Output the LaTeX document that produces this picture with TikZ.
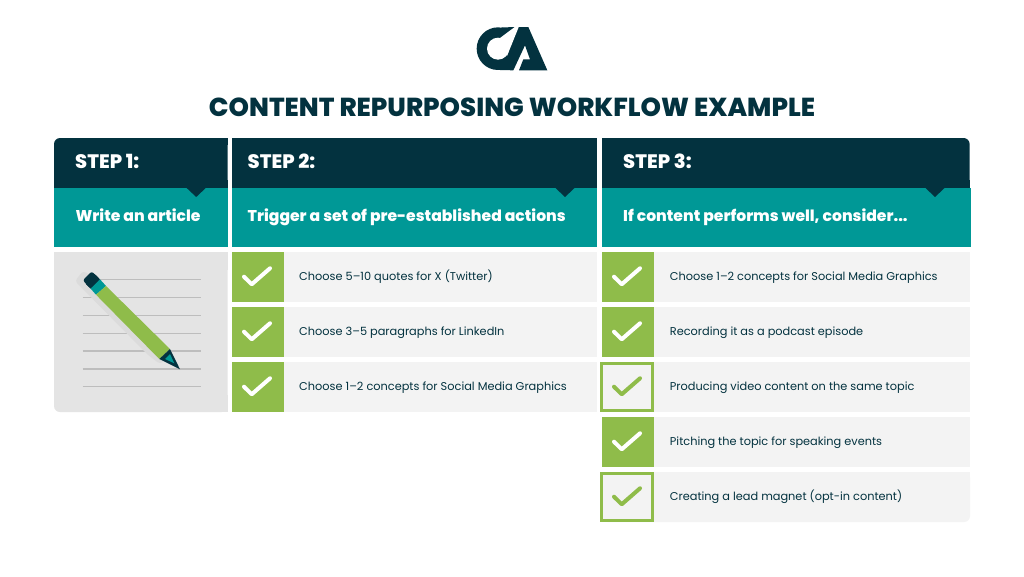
\documentclass[tikz,border=0pt]{standalone}
\usepackage{fontspec}
\setmainfont{Poppins}
\newfontfamily\heavy{Poppins ExtraBold}
\definecolor{ink}{HTML}{03323F}
\definecolor{teal2}{HTML}{009896}
\definecolor{leaf}{HTML}{8FBC4A}
\definecolor{pale}{HTML}{F3F3F3}
\definecolor{panel}{HTML}{E4E4E4}
\definecolor{rule}{HTML}{BDBDBD}
\definecolor{penshadow}{HTML}{DBDBDB}
\tikzset{
  titletext/.style={font=\fontsize{26}{28}\selectfont\heavy,text=ink,anchor=base,inner sep=0pt},
  steptext/.style={font=\fontsize{19.5}{22}\selectfont\heavy,text=white,anchor=base west,inner sep=0pt},
  subtext/.style={font=\fontsize{15.6}{18}\selectfont\heavy,text=white,anchor=base west,inner sep=0pt},
  rowtext/.style={font=\fontsize{11.33}{14}\selectfont,text=ink,anchor=base west,inner sep=0pt},
  tick/.style={line width=4pt,line cap=round,line join=round},
  paper/.style={rule,line width=1.1pt}
}
\newcommand{\solidbox}[2]{%
  \fill[leaf] (#1,#2) rectangle (#1+51.5,#2+50);
  \draw[tick,white] (#1+12,#2+24.7) -- (#1+19.7,#2+32.3) -- (#1+38,#2+16.3);}
\newcommand{\openbox}[2]{%
  \draw[leaf,line width=2.8pt] (#1-0.6,#2+1.4) rectangle (#1+50.2,#2+48.4);
  \draw[tick,leaf] (#1+12,#2+24.7) -- (#1+19.7,#2+32.3) -- (#1+38,#2+16.3);}
\begin{document}
\begin{tikzpicture}[x=1pt,y=-1pt]
\useasboundingbox (0,0) rectangle (1024,576);
\fill[white] (0,0) rectangle (1024,576);
% logo
\begin{scope}[shift={(470,22)},x=0.3333pt,y=-0.3333pt]
  \begin{scope}
    \clip (0,0) -- (190,0) -- (120,150) -- (0,150) -- cycle;
    \fill[ink] (84,80) circle[radius=64];
  \end{scope}
  \fill[ink] (95,16) -- (175,15) -- (232,145) -- (147,145) -- (160,112) -- (180,112) -- (165,70) -- (130,145) -- (90,144) -- cycle;
  \fill[white] (84,80) circle[radius=33];
  \fill[white] (147,13) -- (137,13) -- (90,48) -- (111,102) -- cycle;
\end{scope}
\node[titletext] (title) at (512,116) {CONTENT REPURPOSING WORKFLOW EXAMPLE};
% headers
\fill[ink,rounded corners=6pt] (54,188) -- (54,138) -- (227.5,138) -- (227.5,188) -- cycle;
\fill[ink] (232,138) rectangle (597,188);
\fill[ink,rounded corners=6pt] (602,188) -- (602,138) -- (969.6,138) -- (969.6,188) -- cycle;
\fill[ink] (54,180) rectangle (227.5,188);
\fill[ink] (227.5,138) rectangle (220,145);
\fill[ink] (602,138) rectangle (610,145);
\fill[ink] (602,180) rectangle (969.6,188);
\fill[teal2] (54,188) rectangle (227.5,247);
\fill[teal2] (232,188) rectangle (597,247);
\fill[teal2] (602,188) rectangle (970.5,247);
\fill[ink] (186.7,188) -- (205.7,188) -- (196.2,197) -- cycle;
\fill[ink] (555.5,188) -- (574.5,188) -- (565,197) -- cycle;
\fill[ink] (925.5,188) -- (944.5,188) -- (935,197) -- cycle;
\node[steptext] (s1) at (75,168.7) {STEP 1:};
\node[steptext] (s2) at (247.5,168.7) {STEP 2:};
\node[steptext] (s3) at (623,168.7) {STEP 3:};
\node[subtext] (a1) at (75.5,221.5) {Write an article};
\node[subtext] (a2) at (247.5,221.5) {Trigger a set of pre-established actions};
\node[subtext] (a3) at (623,221.5) {If content performs well, consider...};
% panel with pencil
\fill[panel,rounded corners=6pt] (54,252) -- (54,412) -- (227.5,412) -- (227.5,252) -- cycle;
\fill[panel] (54,252) rectangle (70,270);
\fill[panel] (227.5,252) rectangle (210,270);
\fill[panel] (227.5,412) rectangle (210,395);
\foreach \yy in {297.3,315.3,333.3,351,369,386.7}
  \draw[paper] (82.7,\yy) -- (201,\yy);
\draw[paper] (100,279.3) -- (201,279.3);
\fill[penshadow,rounded corners=3pt] (75,281) -- (83,271) -- (100,280) -- (165,360) -- (160,364) -- (148,355) -- cycle;
\fill[ink,rounded corners=2.5pt] (82.7,280.3) -- (91.7,271.3) -- (100,279.3) -- (90.7,288.7) -- cycle;
\fill[ink] (86,284) -- (90.7,288.7) -- (100,279.3) -- (95.5,275) -- cycle;
\fill[teal2] (100,279.3) -- (106,286) -- (96,294.7) -- (90.7,288.7) -- cycle;
\fill[leaf] (106,286) -- (170,349) -- (159.3,359) -- (96,294.7) -- cycle;
\fill[ink] (170,349) -- (180,369.3) -- (159.3,359) -- cycle;
\fill[teal2] (165,359) -- (170,354) -- (174.3,363.3) -- cycle;
% rows column 2
\fill[pale] (232,252) rectangle (597,302);
\fill[pale] (232,307) rectangle (597,357);
\fill[pale] (232,362) rectangle (597,412);
\solidbox{232}{252}
\solidbox{232}{307}
\solidbox{232}{362}
\node[rowtext] (b1) at (299,280.5) {Choose 5–10 quotes for X (Twitter)};
\node[rowtext] (b2) at (299,335.5) {Choose 3–5 paragraphs for LinkedIn};
\node[rowtext] (b3) at (299,390.5) {Choose 1–2 concepts for Social Media Graphics};
% rows column 3
\fill[pale] (602,252) rectangle (970,302);
\fill[pale] (602,307) rectangle (970,357);
\fill[pale] (602,362) rectangle (970,412);
\fill[pale] (602,417) rectangle (970,467);
\fill[pale,rounded corners=6pt] (602,472) -- (602,522) -- (970,522) -- (970,472) -- cycle;
\fill[pale] (960,472) rectangle (970,482);
\solidbox{602}{252}
\solidbox{602}{307}
\openbox{602}{362}
\solidbox{602}{417}
\openbox{602}{472}
\node[rowtext] (c1) at (669.7,280.5) {Choose 1–2 concepts for Social Media Graphics};
\node[rowtext] (c2) at (669.7,335.5) {Recording it as a podcast episode};
\node[rowtext] (c3) at (669.7,390.5) {Producing video content on the same topic};
\node[rowtext] (c4) at (669.7,445.5) {Pitching the topic for speaking events};
\node[rowtext] (c5) at (669.7,500.5) {Creating a lead magnet (opt-in content)};
\end{tikzpicture}
\end{document}
